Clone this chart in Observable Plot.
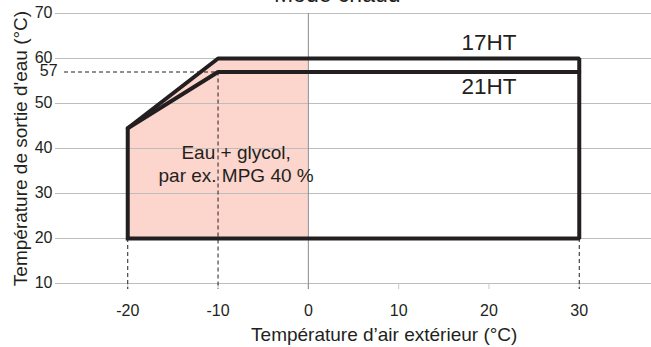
<!DOCTYPE html>
<html><head><meta charset="utf-8">
<script src="https://cdn.jsdelivr.net/npm/d3@7"></script>
<script src="https://cdn.jsdelivr.net/npm/@observablehq/plot@0.6"></script>
<style>body{margin:0;background:#fff;} svg{overflow:visible}</style>
</head><body><div id="chart"></div>
<script>
const xTicks = [-20, -10, 0, 10, 20, 30];
const yTicks = [10, 20, 30, 40, 50, 60, 70];
// 17HT envelope (closed)
const hp17X = [-20, -20, -10, 30, 30, -20];
const hp17Y = [20, 44.5, 60, 60, 20, 20];
// 21HT upper limit
const hp21X = [-20, -10, 30];
const hp21Y = [44.5, 57, 57];
// glycol zone upper boundary
const glyX = [-20, -10, 0];
const glyY = [44.5, 60, 60];
const glyBottom = 20;
// dashed reference lines
const dashX = [-20, -10, 30];
const dashTop = [20, 57, 20];
const refY = 57;
const refFrom = -27;
const modelLabels = ["17HT", "21HT"];
const modelX = [20, 20];
const modelY = [63.4, 53.8];
const noteText = "Eau + glycol,\npar ex. MPG 40 %";
const noteX = -8, noteY = 36.8;
const title = "Mode chaud";
const titleX = 3.2;
const xTitle = "Température d’air extérieur (°C)";
const xTitleX = 8.4;
const yTitle = "Température de sortie d'eau (°C)";
const yTitleY = 40;

const ink = "#231f20";
const tickFont = 16;
const chart = Plot.plot({
  width: 651, height: 347,
  marginLeft: 55, marginRight: 0, marginTop: 13, marginBottom: 64,
  x: {domain: [-28, 38], axis: null},
  y: {domain: [10, 70], axis: null},
  style: {fontFamily: "'Liberation Sans', Arial, sans-serif", color: ink, background: "white", overflow: "visible"},
  marks: [
    Plot.areaY(glyX.map((x, i) => ({x, y: glyY[i]})), {x: "x", y1: glyBottom, y2: "y", fill: "#fcd5cc", curve: "linear"}),
    Plot.ruleY(yTicks, {stroke: "#bdbdbd", strokeWidth: 1}),
    Plot.ruleX(xTicks, {x: d => d, y1: 10, y2: 10, stroke: "#c8c8c8", insetBottom: -6}),
    Plot.ruleX([0], {stroke: "#8c8c8c", insetBottom: -6}),
    Plot.text(xTicks, {x: d => d, y: 10, text: d => String(d), dy: 27, fontSize: tickFont, fill: ink}),
    Plot.text(yTicks, {y: d => d, frameAnchor: "left", text: d => String(d), textAnchor: "end", dx: -3, dy: -1, fontSize: tickFont, fill: ink}),
    Plot.ruleX(dashX.map((x, i) => ({x, top: dashTop[i]})), {x: "x", y1: "top", y2: 10, stroke: ink, strokeDasharray: "4,3", insetBottom: -6}),
    Plot.ruleY([refY], {x1: refFrom, x2: -10, stroke: ink, strokeDasharray: "4,3"}),
    Plot.text([refY], {x: refFrom, y: d => d, text: d => String(d), textAnchor: "end", dx: -7, dy: -1, fontSize: tickFont, fill: ink}),
    Plot.line(hp17X.map((x, i) => ({x, y: hp17Y[i]})), {x: "x", y: "y", stroke: ink, strokeWidth: 4, strokeLinejoin: "miter", strokeLinecap: "square"}),
    Plot.line(hp21X.map((x, i) => ({x, y: hp21Y[i]})), {x: "x", y: "y", stroke: ink, strokeWidth: 4, strokeLinejoin: "miter"}),
    Plot.text(modelLabels, {x: (d, i) => modelX[i], y: (d, i) => modelY[i], text: d => d, fontSize: 22.5, fill: ink}),
    Plot.text([noteText], {x: noteX, y: noteY, text: d => d, fontSize: 19, lineHeight: 1.2, fill: ink}),
    Plot.text([title], {x: titleX, frameAnchor: "top", text: d => d, lineAnchor: "bottom", dy: -12, fontSize: 23, fill: ink}),
    Plot.text([xTitle], {x: xTitleX, frameAnchor: "bottom", text: d => d, lineAnchor: "bottom", dy: 57, fontSize: 19, fill: ink}),
    Plot.text([yTitle], {y: yTitleY, frameAnchor: "left", text: d => d, textAnchor: "middle", rotate: -90, dx: -35, fontSize: 19, fill: ink})
  ]
});
document.getElementById("chart").appendChild(chart);
</script></body></html>
